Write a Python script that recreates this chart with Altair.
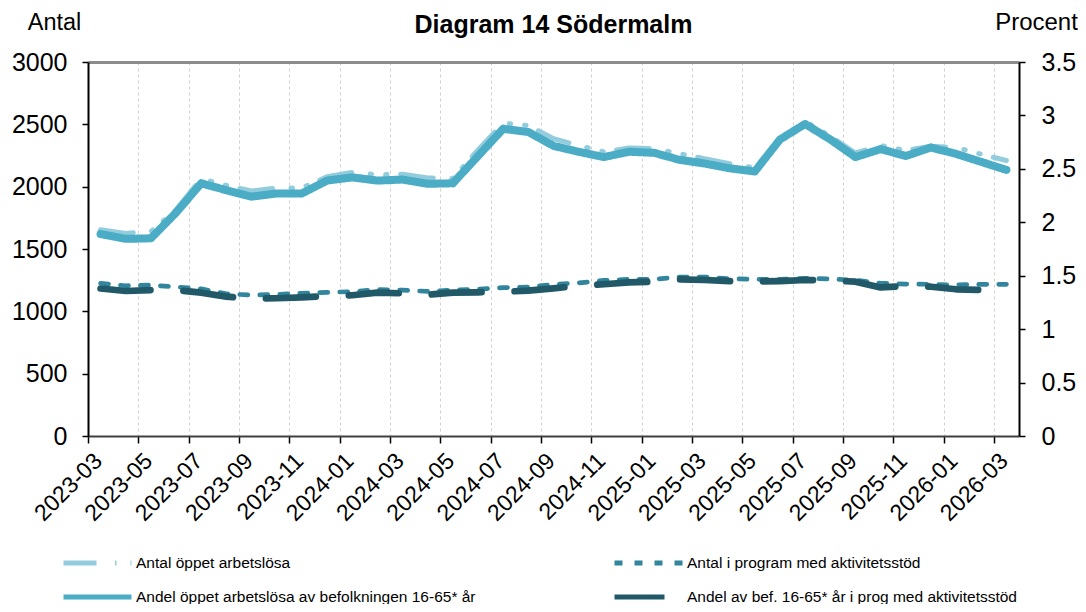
import json
import altair as alt
import pandas as pd

FONT = "Liberation Sans"

months = [
    "2023-03", "2023-04", "2023-05", "2023-06", "2023-07", "2023-08", "2023-09", "2023-10",
    "2023-11", "2023-12", "2024-01", "2024-02", "2024-03", "2024-04", "2024-05", "2024-06",
    "2024-07", "2024-08", "2024-09", "2024-10", "2024-11", "2024-12", "2025-01", "2025-02",
    "2025-03", "2025-04", "2025-05", "2025-06", "2025-07", "2025-08", "2025-09", "2025-10",
    "2025-11", "2025-12", "2026-01", "2026-02", "2026-03",
]
tick_labels = months[::2]

# Antal (left axis)
antal_oppet = [1655, 1625, 1640, 1815, 2065, 2010, 1965, 1990, 1990, 2080, 2115, 2095, 2100,
               2070, 2065, 2295, 2510, 2490, 2385, 2330, 2280, 2310, 2305, 2265, 2225, 2185,
               2150, 2380, 2525, 2405, 2270, 2330, 2290, 2325, 2315, 2260, 2210]
antal_program = [1225, 1205, 1210, 1196, 1180, 1140, 1131, 1135, 1145, 1152, 1158, 1175, 1170,
                 1160, 1170, 1178, 1190, 1195, 1215, 1228, 1248, 1257, 1257, 1275, 1275, 1262,
                 1257, 1257, 1265, 1260, 1250, 1225, 1219, 1217, 1211, 1217, 1217]
# Procent (right axis)
andel_oppet = [1.89, 1.845, 1.85, 2.09, 2.365, 2.30, 2.24, 2.27, 2.27, 2.39, 2.42, 2.39, 2.40,
               2.36, 2.365, 2.62, 2.875, 2.845, 2.715, 2.66, 2.61, 2.66, 2.65, 2.585, 2.55, 2.505,
               2.475, 2.775, 2.92, 2.775, 2.61, 2.685, 2.62, 2.70, 2.64, 2.565, 2.49]
andel_program = [1.38, 1.357, 1.366, 1.366, 1.341, 1.304, 1.285, 1.289, 1.298, 1.31, 1.317, 1.341,
                 1.335, 1.322, 1.341, 1.345, 1.35, 1.36, 1.382, 1.405, 1.42, 1.438, 1.444, 1.465,
                 1.46, 1.45, 1.445, 1.45, 1.46, 1.455, 1.444, 1.39, 1.404, 1.397, 1.373, 1.366, 1.366]

S1 = "Antal öppet arbetslösa"
S2 = "Antal i program med aktivitetsstöd"
S3 = "Andel öppet arbetslösa av befolkningen 16-65* år"
S4 = "Andel av bef. 16-65* år i prog med aktivitetsstöd"

series_order = [S1, S2, S3, S4]
series_colors = ["#93CDDD", "#31859C", "#4BACC6", "#215968"]
series_dash = [[33, 18.5, 1.5, 14, 1.5, 13.5], [8, 12], [1, 0], [50, 33]]


def frame(values, name):
    return pd.DataFrame({
        "pos": [i + 0.5 for i in range(len(months))],
        "month": months,
        "series": name,
        "value": values,
    })


left_df = pd.concat([frame(antal_oppet, S1), frame(antal_program, S2)], ignore_index=True)
right_df = pd.concat([frame(andel_oppet, S3), frame(andel_program, S4)], ignore_index=True)

legend = alt.Legend(
    orient="none", legendX=-27, legendY=492, direction="horizontal", columns=2,
    columnPadding=136, rowPadding=16, clipHeight=18, symbolType="stroke", symbolSize=68 * 68,
    symbolStrokeWidth=5, labelFontSize=15.5, labelFont=FONT, labelColor="black",
    labelLimit=0, title=None, padding=0, labelOffset=2,
)
color = alt.Color("series:N", scale=alt.Scale(domain=series_order, range=series_colors), legend=legend)
dash = alt.StrokeDash("series:N", scale=alt.Scale(domain=series_order, range=series_dash), legend=legend)

x_scale = alt.Scale(domain=[0, 37], nice=False, zero=False)
label_expr = json.dumps(tick_labels) + "[round(datum.value / 2)]"
x_axis_bottom = alt.Axis(
    values=list(range(0, 37, 2)), labelExpr=label_expr, labelAngle=-45, labelAlign="right",
    labelBaseline="middle", labelFontSize=23, labelColor="black", labelPadding=14,
    labelOffset=10, labelFlush=False, labelOverlap=False, tickSize=7, tickColor="black",
    tickWidth=1.5, domainColor="#404040", domainWidth=2, grid=True, gridColor="#D0D0D0",
    gridDash=[3, 3], gridWidth=1, title=None,
)
x_axis_top = alt.Axis(orient="top", domain=True, domainColor="#8C8C8C", domainWidth=3,
                      ticks=False, labels=False, grid=False, title=None)

y_left_axis = alt.Axis(
    values=[0, 500, 1000, 1500, 2000, 2500, 3000], format="d", title="Antal", titleAngle=0,
    titleX=-34, titleY=-40, titleAlign="center", titleBaseline="middle", titleFontSize=23.5,
    titleFontWeight="normal", titleColor="black", labelFontSize=25, labelColor="black",
    labelPadding=15, tickSize=6, tickColor="black", tickWidth=1.5, domainColor="black",
    domainWidth=2, grid=False,
)
y_right_axis = alt.Axis(
    orient="right", values=[0, 0.5, 1, 1.5, 2, 2.5, 3, 3.5], format="~g", title="Procent",
    titleAngle=0, titleX=17, titleY=-40, titleAlign="center", titleBaseline="middle",
    titleFontSize=24, titleFontWeight="normal", titleColor="black", labelFontSize=25,
    labelColor="black", labelPadding=16, tickSize=6, tickColor="black", tickWidth=1.5,
    domainColor="black", domainWidth=2, grid=False,
)


def series_line(df, name, width, x_axis, y_scale, y_axis):
    return alt.Chart(df).transform_filter(alt.datum.series == name).mark_line(
        strokeWidth=width, strokeCap="round", strokeJoin="round"
    ).encode(
        x=alt.X("pos:Q", scale=x_scale, axis=x_axis),
        y=alt.Y("value:Q", scale=y_scale, axis=y_axis),
        color=color,
        strokeDash=dash,
        order=alt.Order("pos:Q"),
    )


ys_left = alt.Scale(domain=[0, 3000], nice=False, zero=True)
ys_right = alt.Scale(domain=[0, 3.5], nice=False, zero=True)

left = alt.layer(
    series_line(left_df, S1, 5, x_axis_bottom, ys_left, y_left_axis),
    series_line(left_df, S2, 4.7, x_axis_bottom, ys_left, y_left_axis),
)
right = alt.layer(
    series_line(right_df, S3, 8, x_axis_top, ys_right, y_right_axis),
    series_line(right_df, S4, 6.7, x_axis_top, ys_right, y_right_axis),
)

chart = alt.layer(left, right).resolve_scale(y="independent").resolve_axis(
    x="independent", y="independent"
).properties(
    width=931, height=374,
    autosize=alt.AutoSizeParams(type="none"),
    padding={"left": 80, "top": 54, "right": 59, "bottom": 168},
    title=alt.TitleParams("Diagram 14 Södermalm", font=FONT, fontSize=25, fontWeight="bold",
                          color="black", anchor="middle", frame="group", offset=0, dy=28),
).configure_view(stroke=None).configure_axis(labelFont=FONT, titleFont=FONT)

chart.save("out.html", embed_options={"renderer": "svg", "actions": False})
